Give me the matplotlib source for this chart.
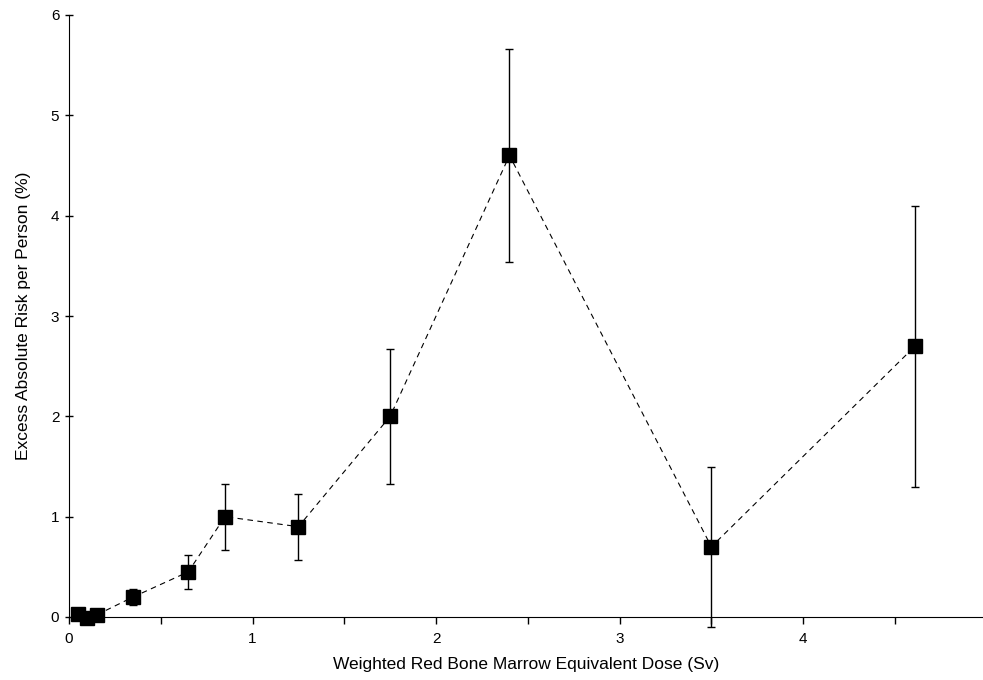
import matplotlib
matplotlib.use("Agg")
import matplotlib.pyplot as plt

dose = [0.05, 0.10, 0.15, 0.35, 0.65, 0.85, 1.25, 1.75, 2.40, 3.50, 4.61]
risk = [0.03, -0.01, 0.02, 0.20, 0.45, 1.00, 0.90, 2.00, 4.60, 0.70, 2.70]
err_low = [0.03, 0.03, 0.03, 0.12, 0.28, 0.67, 0.57, 1.33, 3.54, -0.10, 1.30]
err_high = [0.03, -0.01, 0.02, 0.28, 0.62, 1.33, 1.23, 2.67, 5.66, 1.50, 4.10]

plt.rcParams['font.family'] = ['Liberation Sans', 'DejaVu Sans']

fig = plt.figure(figsize=(9.83, 6.8), dpi=100)
ax = fig.add_axes([69/983, 1 - 617/680, (983-69)/983, (617-15)/680])

lo = [r - l if l <= r else 0 for r, l in zip(risk, err_low)]
hi = [h - r if h >= r else 0 for r, h in zip(risk, err_high)]
eb = ax.errorbar(dose, risk, yerr=[lo, hi], fmt='none', ecolor='black',
                 elinewidth=1.0, capsize=3, capthick=1.0, zorder=2)
for art in eb.get_children():
    art.set_clip_on(False)
ax.plot(dose, risk, color='black', linestyle=(0, (5, 4)), linewidth=0.8,
        marker='s', markersize=9.5, markerfacecolor='black',
        markeredgecolor='black', zorder=3, clip_on=False)

ax.set_xlim(0, 4.98)
ax.set_ylim(0, 6)
ax.set_xticks([0, 1, 2, 3, 4])
ax.set_xticks([0.5, 1.5, 2.5, 3.5, 4.5], minor=True)
ax.set_yticks([0, 1, 2, 3, 4, 5, 6])
ax.spines['top'].set_visible(False)
ax.spines['right'].set_visible(False)
ax.tick_params(axis='x', which='both', direction='out', length=5, width=1,
               labelsize=11, colors='black', pad=6)
ax.tick_params(axis='y', which='both', direction='inout', length=6, width=1,
               labelsize=11, colors='black', pad=4)
ax.set_xlabel('Weighted Red Bone Marrow Equivalent Dose (Sv)', fontsize=12.5, labelpad=8)
ax.set_ylabel('Excess Absolute Risk per Person (%)', fontsize=12.5, labelpad=14)

fig.savefig('out.png', dpi=100)
